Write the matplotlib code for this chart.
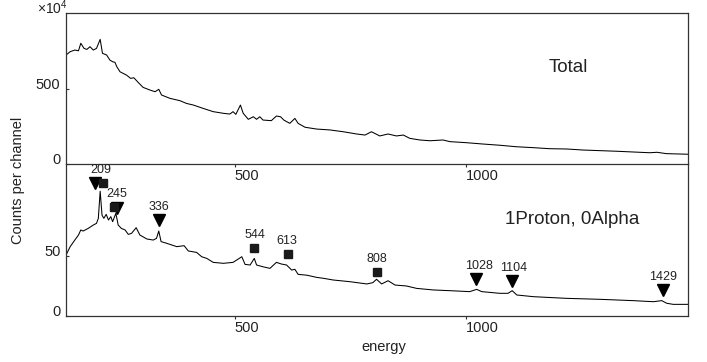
import matplotlib
matplotlib.use('Agg')
import matplotlib.pyplot as plt

# Spectrum: energy (channel) and counts per channel
total_energy = [134, 143, 153, 161, 166, 173, 179, 186, 193, 200, 208, 213, 222, 229, 235, 240,
                244, 251, 265, 274, 281, 291, 301, 316, 327, 335, 341, 359, 381, 395, 410, 431,
                453, 475, 489, 496, 502, 512, 518, 529, 540, 547, 554, 561, 579, 590, 599, 606,
                619, 630, 637, 652, 677, 706, 735, 764, 782, 796, 814, 832, 850, 865, 879, 901,
                923, 951, 966, 1002, 1038, 1074, 1110, 1146, 1182, 1219, 1255, 1291, 1327, 1363,
                1399, 1415, 1435, 1482]
total_counts = [727, 749, 760, 755, 805, 771, 764, 782, 760, 771, 831, 738, 727, 693, 682, 678,
                649, 615, 593, 571, 575, 542, 511, 493, 482, 498, 460, 438, 422, 404, 393, 371,
                349, 338, 333, 349, 331, 393, 338, 298, 315, 298, 315, 293, 289, 320, 315, 293,
                271, 304, 271, 245, 233, 227, 215, 200, 193, 215, 187, 200, 187, 193, 171, 160,
                155, 160, 149, 142, 133, 125, 115, 109, 102, 100, 93, 89, 85, 80,
                75, 78, 69, 65]

gated_energy = [134, 143, 153, 161, 166, 171, 182, 193, 200, 204, 208, 212, 216, 221, 226, 231,
                235, 242, 247, 254, 262, 269, 276, 286, 294, 309, 323, 330, 335, 340, 352, 363,
                374, 390, 399, 417, 428, 439, 453, 475, 496, 515, 522, 533, 542, 547, 561, 576,
                590, 601, 612, 623, 630, 637, 656, 677, 692, 713, 749, 786, 799, 807, 818, 832,
                847, 872, 894, 930, 966, 1009, 1024, 1035, 1074, 1092, 1101, 1111, 1147, 1219,
                1291, 1363, 1407, 1425, 1436, 1450, 1482]
gated_counts = [50.8, 57.8, 63.3, 67.5, 71.7, 70.8, 73.0, 75.8, 77.2, 81.4, 104.0, 84.0, 81.4, 84.7, 80.0, 82.8,
                78.6, 85.6, 75.8, 73.0, 71.7, 68.0, 68.9, 73.6, 67.5, 64.2, 63.3, 64.7, 70.8, 62.0, 60.6, 59.2,
                57.8, 58.6, 54.2, 53.0, 49.4, 48.0, 44.7, 43.9, 44.7, 49.4, 43.0, 42.5, 48.0, 42.5, 41.0, 39.7,
                44.7, 43.3, 42.5, 38.3, 38.9, 34.7, 34.0, 32.2, 31.4, 30.0, 28.6, 26.7, 27.8, 30.6, 26.7, 29.4,
                25.8, 25.0, 23.0, 21.7, 21.1, 20.3, 22.2, 20.3, 18.9, 18.9, 21.1, 17.5, 16.1, 14.7,
                13.9, 12.8, 11.9, 12.8, 10.6, 9.7, 9.7]

# Marked gamma lines
tri_energy = [197, 244, 336, 1022, 1100, 1427]
tri_height = [111, 90, 80, 30.8, 29.4, 21.7]
sq_energy = [214, 238, 541, 615, 808]
sq_height = [111, 91, 56.7, 51.7, 37]
peak_labels = ['209', '245', '336', '544', '613', '808', '1028', '1104', '1429']
peak_label_height = [111, 91, 80, 56.7, 51.7, 37, 30.8, 29.4, 21.7]

plt.rcParams['font.family'] = ['Liberation Sans', 'DejaVu Sans']
plt.rcParams['mathtext.fontset'] = 'custom'
plt.rcParams['mathtext.rm'] = 'Liberation Sans'
plt.rcParams['mathtext.it'] = 'Liberation Sans'

text_color = '#222222'
spine_color = '#333333'

fig = plt.figure(figsize=(7.07, 3.62), dpi=100)
ax1 = fig.add_axes([0.0934, 0.547, 0.8797, 0.4171])
ax2 = fig.add_axes([0.0934, 0.1271, 0.8797, 0.4199])
ax2.patch.set_visible(False)

ax1.plot(total_energy, total_counts, color='black', linewidth=0.75)
ax2.plot(gated_energy, gated_counts, color='black', linewidth=0.75)

# Peak markers and their energy labels
ax2.plot(tri_energy, tri_height, linestyle='none', marker='v', markersize=9, color='black')
ax2.plot(sq_energy, sq_height, linestyle='none', marker='s', markersize=6, color='#1a1a1a')
for label, h in zip(peak_labels, peak_label_height):
    ax2.annotate(label, (float(label), h), xytext=(0, 5), textcoords='offset points',
                 ha='center', va='bottom', fontsize=9, color=text_color)

for ax, top, yticks in [(ax1, 1007, [0, 500]), (ax2, 126.7, [0, 50])]:
    ax.set_xlim(134, 1482)
    ax.set_ylim(0, top)
    ax.set_xticks([500, 1000])
    ax.set_yticks(yticks)
    ax.tick_params(axis='x', direction='out', length=2, pad=1.5, labelsize=10.5,
                   colors=spine_color, labelcolor=text_color)
    ax.tick_params(axis='y', direction='in', length=2, pad=4, labelsize=10.5,
                   colors=spine_color, labelcolor=text_color)
    for lab in ax.get_xticklabels():
        lab.set_ha('left')
    for lab in ax.get_yticklabels():
        lab.set_va('baseline')
    for sp in ax.spines.values():
        sp.set_color(spine_color)
        sp.set_linewidth(0.9)

ax2.spines['top'].set_visible(False)

ax1.text(0.807, 0.642, 'Total', transform=ax1.transAxes, ha='center', va='center',
         fontsize=13.5, color=text_color)
ax2.text(0.8135, 0.632, '1Proton, 0Alpha', transform=ax2.transAxes, ha='center', va='center',
         fontsize=13.5, color=text_color)

fig.text(0.052, 0.978, r'$\times10^4$', ha='left', va='center', fontsize=10, color=text_color)
fig.text(0.026, 0.503, 'Counts per channel', rotation=90, ha='center', va='center',
         fontsize=10.5, color=text_color)
fig.text(0.543, 0.041, 'energy', ha='center', va='center', fontsize=10.5, color=text_color)

fig.savefig('out.png', dpi=100)
